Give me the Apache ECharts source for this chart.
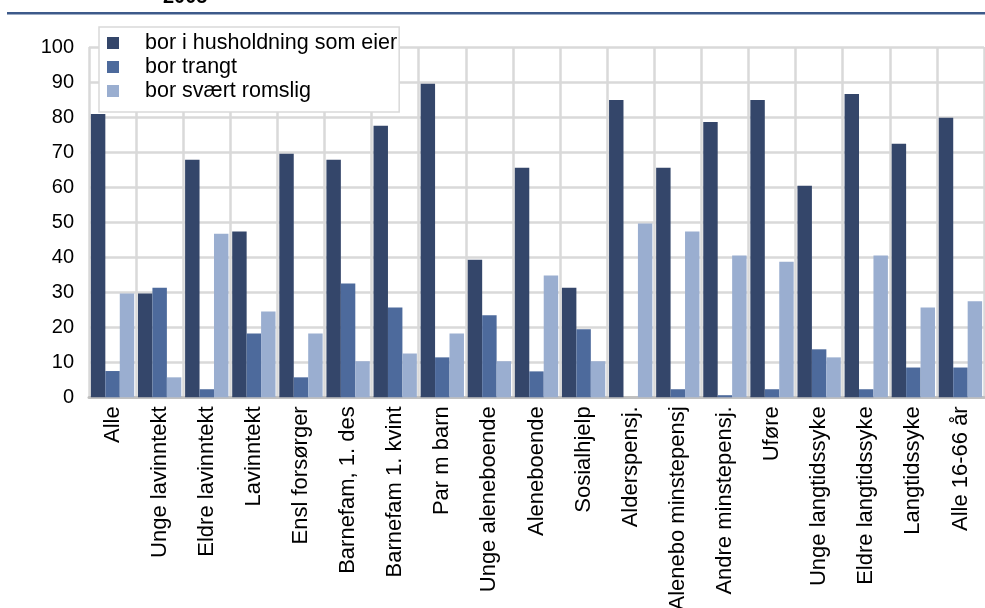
<!DOCTYPE html>
<html>
<head>
<meta charset="utf-8">
<script src="https://cdn.jsdelivr.net/npm/echarts@6/dist/echarts.min.js"></script>
<style>
html,body{margin:0;padding:0;background:#fff;}
#chart{width:985px;height:608px;}
</style>
</head>
<body>
<div id="chart"></div>
<script>
var categories = ["Alle","Unge lavinntekt","Eldre lavinntekt","Lavinntekt","Ensl forsørger","Barnefam, 1. des","Barnefam 1. kvint","Par m barn","Unge aleneboende","Aleneboende","Sosialhjelp","Alderspensj.","Alenebo minstepensj","Andre minstepensj.","Uføre","Unge langtidssyke","Eldre langtidssyke","Langtidssyke","Alle 16-66 år"];
var seriesNames = ["bor i husholdning som eier","bor trangt","bor svært romslig"];
var eier = [80.9,29.6,67.8,47.3,69.5,67.8,77.5,89.5,39.3,65.5,31.3,84.9,65.5,78.6,84.9,60.4,86.6,72.4,79.8];
var trangt = [7.5,31.3,2.3,18.2,5.7,32.5,25.6,11.4,23.4,7.4,19.4,0,2.3,0.6,2.3,13.7,2.3,8.5,8.5];
var romslig = [29.6,5.7,46.7,24.5,18.2,10.3,12.5,18.2,10.3,34.8,10.3,49.6,47.3,40.5,38.7,11.4,40.5,25.6,27.4];
var yTicks = [0,10,20,30,40,50,60,70,80,90,100];
var titleText = "2005";

var colors = ["#34466a","#4d6a9c","#9aaed0"];
var font = "'Liberation Sans', Arial, sans-serif";

var chart = echarts.init(document.getElementById('chart'), null, {renderer:'canvas'});
var values = [eier, trangt, romslig];
chart.setOption({
  animation: false,
  backgroundColor: '#fff',
  textStyle: {fontFamily: font},
  graphic: [
    {type:'rect', shape:{x:7, y:12, width:978, height:2.5}, style:{fill:'#3d5a8a'}, z:10},
    {type:'text', left:163, top:-13, style:{text:titleText, font:"bold 20px 'Liberation Sans', Arial, sans-serif", fill:'#000'}, z:10}
  ],
  legend: {
    data: seriesNames,
    orient: 'vertical',
    left: 99,
    top: 27,
    padding: [5, 2, 10, 8],
    itemGap: 2,
    itemWidth: 12,
    itemHeight: 12,
    icon: 'rect',
    backgroundColor: '#fff',
    borderColor: '#d9d9d9',
    borderWidth: 1.5,
    textStyle: {fontSize: 21.5, color:'#000', fontFamily: font, lineHeight: 20, padding:[0,0,0,21]},
    z: 5
  },
  grid: {left: 89, right: 1, top: 47, bottom: 210.7, containLabel: false, outerBoundsMode: 'none'},
  xAxis: {
    type: 'category',
    data: categories,
    boundaryGap: true,
    axisLine: {show: true, lineStyle: {color:'#c0c0c0', width: 3}},
    axisTick: {show: false},
    splitLine: {show: true, lineStyle: {color:'#d9d9d9', width: 2.5}},
    axisLabel: {rotate: 90, fontSize: 22, color:'#000', margin: 9, interval: 0, fontFamily: font, hideOverlap: false}
  },
  yAxis: {
    type: 'value',
    min: yTicks[0],
    max: yTicks[yTicks.length-1],
    interval: 10,
    axisLine: {show: false},
    axisTick: {show: false},
    splitLine: {show: true, lineStyle: {color:'#d9d9d9', width: 2.5}},
    axisLabel: {fontSize: 20, color:'#000', margin: 15, fontFamily: font}
  },
  series: seriesNames.map(function(n, i){
    return {
      name: n,
      type: 'bar',
      data: values[i],
      barGap: '0%',
      barCategoryGap: '8%',
      itemStyle: {color: colors[i]},
      z: 3
    };
  })
});
</script>
</body>
</html>
